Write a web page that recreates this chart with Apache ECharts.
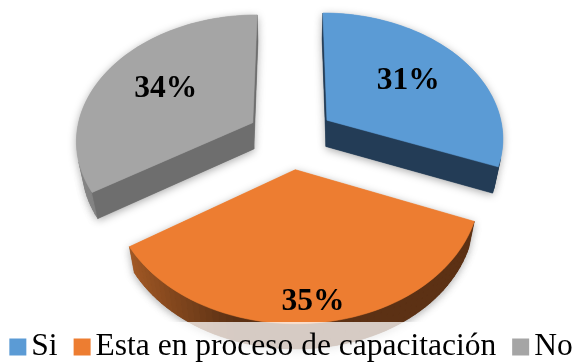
<!DOCTYPE html>
<html>
<head>
<meta charset="utf-8">
<script src="https://cdn.jsdelivr.net/npm/echarts@6/dist/echarts.min.js"></script>
<style>
  html, body { margin: 0; padding: 0; background: #ffffff; }
  #chart { width: 582px; height: 362px; }
</style>
</head>
<body>
<div id="chart"></div>
<script>
// Survey answers and their counts (percent of respondents)
const categories = ['Si', 'Esta en proceso de capacitación', 'No'];
const values = [31, 35, 34];

// Styling per slice
const topColors = ['#5B9BD5', '#ED7D31', '#A5A5A5'];
const wallDark = ['#233C56', '#5C3114', '#6E6E6E'];
const wallLight = ['#2E5071', '#A85C26', '#858585'];
const labelRadius = [0.6, 0.88, 0.6];

const total = values.reduce((a, b) => a + b, 0);
const starts = [];
values.reduce((acc, v) => { starts.push(acc); return acc + v; }, 0);

// Perspective view of the exploded 3D pie
const VIEW = { cx: 291, cy: 137.5, scale: 177, tilt: 45 * Math.PI / 180, dist: 5.5, explode: 0.25, thick: 0.216 };
const sinT = Math.sin(VIEW.tilt), cosT = Math.cos(VIEW.tilt);
const cam = [0, -VIEW.dist * cosT, VIEW.dist * sinT];

function project(X, Y, Z) {
  const depth = VIEW.dist + Y * cosT - Z * sinT;
  const s = VIEW.dist / depth;
  return [VIEW.cx + VIEW.scale * X * s, VIEW.cy - VIEW.scale * (Y * sinT + Z * cosT) * s];
}
function facing(n, p) {
  return n[0] * (cam[0] - p[0]) + n[1] * (cam[1] - p[1]) + n[2] * (cam[2] - p[2]) > 0;
}
function hexToRgb(h) {
  const v = parseInt(h.slice(1), 16);
  return [(v >> 16) & 255, (v >> 8) & 255, v & 255];
}
function mix(c1, c2, t) {
  const a = hexToRgb(c1), b = hexToRgb(c2);
  const r = a.map((x, i) => Math.round(x + (b[i] - x) * t));
  return 'rgb(' + r.join(',') + ')';
}

function makeRenderer(k) {
  return function (params, api) {
    const start = api.value(0), val = api.value(1);
    const a0 = start / total * 2 * Math.PI;
    const a1 = (start + val) / total * 2 * Math.PI;
    const am = (a0 + a1) / 2;
    const ox = Math.sin(am) * VIEW.explode, oy = Math.cos(am) * VIEW.explode;
    const H = VIEW.thick;
    const faces = [];

    // curved outer wall
    const N = 60;
    for (let i = 0; i < N; i++) {
      const t0 = a0 + (a1 - a0) * i / N, t1 = a0 + (a1 - a0) * (i + 1) / N, tm = (t0 + t1) / 2;
      const n = [Math.sin(tm), Math.cos(tm), 0];
      const p = [ox + n[0], oy + n[1], -H / 2];
      if (!facing(n, p)) continue;
      const t = Math.max(0, Math.min(1, (-n[0] - 0.3) / 0.6));
      const col = mix(wallDark[k], wallLight[k], t);
      faces.push({ pts: [
        project(ox + Math.sin(t0), oy + Math.cos(t0), 0),
        project(ox + Math.sin(t1), oy + Math.cos(t1), 0),
        project(ox + Math.sin(t1), oy + Math.cos(t1), -H),
        project(ox + Math.sin(t0), oy + Math.cos(t0), -H)
      ], color: col });
    }

    // radial walls
    [[a0, [-Math.cos(a0), Math.sin(a0), 0]], [a1, [Math.cos(a1), -Math.sin(a1), 0]]].forEach(([a, n]) => {
      const ex = ox + Math.sin(a), ey = oy + Math.cos(a);
      const p = [ox + 0.5 * Math.sin(a), oy + 0.5 * Math.cos(a), -H / 2];
      if (!facing(n, p)) return;
      faces.push({ pts: [project(ox, oy, 0), project(ex, ey, 0), project(ex, ey, -H), project(ox, oy, -H)], color: wallDark[k] });
    });

    // top face
    const topPts = [project(ox, oy, 0)];
    for (let i = 0; i <= N; i++) {
      const t = a0 + (a1 - a0) * i / N;
      topPts.push(project(ox + Math.sin(t), oy + Math.cos(t), 0));
    }
    faces.push({ pts: topPts, color: topColors[k] });

    const children = [];
    // soft shadow pass
    faces.forEach(f => children.push({
      type: 'polygon', shape: { points: f.pts },
      style: { fill: f.color, shadowBlur: 9, shadowColor: 'rgba(0,0,0,0.35)', shadowOffsetX: 0, shadowOffsetY: 2 }
    }));
    faces.forEach(f => children.push({
      type: 'polygon', shape: { points: f.pts },
      style: { fill: f.color, stroke: f.color, lineWidth: 0.6 }
    }));

    // percentage label on the top face
    const lr = labelRadius[k];
    const lp = project(ox + Math.sin(am) * lr, oy + Math.cos(am) * lr, 0);
    children.push({
      type: 'text',
      style: {
        text: Math.round(val / total * 100) + '%',
        x: lp[0], y: lp[1], align: 'center', verticalAlign: 'middle',
        font: 'bold 31.5px "Liberation Serif", "Times New Roman", serif', fill: '#000000'
      }
    });
    return { type: 'group', children: children };
  };
}

// back slices first, front slice last
const drawOrder = [0, 2, 1];
const series = drawOrder.map(k => ({
  type: 'custom',
  name: categories[k],
  coordinateSystem: 'none',
  itemStyle: { color: topColors[k] },
  renderItem: makeRenderer(k),
  data: [[starts[k], values[k]]],
  silent: true
}));

const chart = echarts.init(document.getElementById('chart'), null, { renderer: 'canvas' });
chart.setOption({
  animation: false,
  backgroundColor: '#ffffff',
  legend: {
    data: categories,
    left: 'center',
    top: 322,
    width: 578,
    padding: [9, 2, 12, 2],
    itemWidth: 17,
    itemHeight: 17,
    itemGap: 16,
    icon: 'rect',
    backgroundColor: 'rgba(255,255,255,0.75)',
    selectedMode: false,
    textStyle: { fontFamily: '"Liberation Serif", "Times New Roman", serif', fontSize: 31.5, color: '#000000' }
  },
  series: series
});
</script>
</body>
</html>
